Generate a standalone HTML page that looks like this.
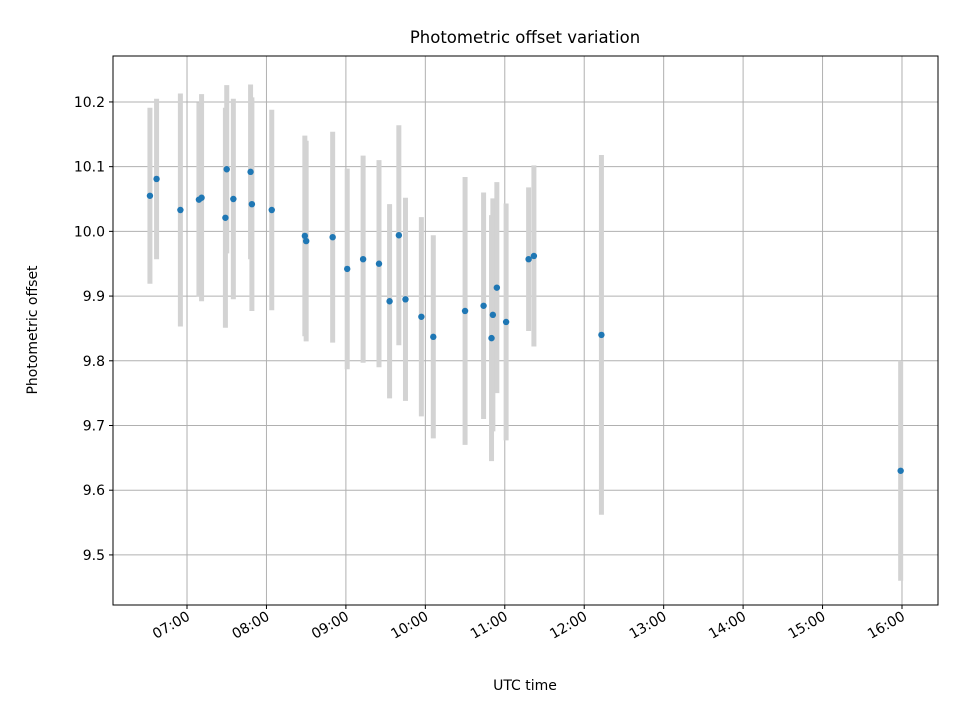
<!DOCTYPE html>
<html><head><meta charset="utf-8"><style>
body{margin:0;background:#fff;font-family:"Liberation Sans","DejaVu Sans",sans-serif}
svg text{font-family:"DejaVu Sans","Liberation Sans",sans-serif}
</style></head><body>
<svg id="chart" width="960" height="720" xmlns="http://www.w3.org/2000/svg">
<rect width="960" height="720" fill="#fff"/>
<text x="525" y="43" font-size="16.5" text-anchor="middle">Photometric offset variation</text>
<text x="525" y="690" font-size="14" text-anchor="middle">UTC time</text>
<text transform="translate(37,330) rotate(-90)" font-size="14" text-anchor="middle">Photometric offset</text>
<g id="grid"></g><g id="bars"></g><g id="pts"></g><g id="ticks"></g>
<rect x="113" y="56" width="825" height="549" fill="none" stroke="#000" stroke-width="1"/>
</svg>
<script>
const times = ["06:32","06:37","06:55","07:09","07:11","07:29","07:30","07:35","07:48","07:49","08:04","08:29","08:30","08:50","09:01","09:13","09:25","09:33","09:40","09:45","09:57","10:06","10:30","10:44","10:50","10:51","10:54","11:01","11:18","11:22","12:13","15:59"];
const offsets = [10.055,10.081,10.033,10.049,10.052,10.021,10.096,10.050,10.092,10.042,10.033,9.993,9.985,9.991,9.942,9.957,9.950,9.892,9.994,9.895,9.868,9.837,9.877,9.885,9.835,9.871,9.913,9.860,9.957,9.962,9.840,9.630];
const errors = [0.136,0.124,0.18,0.15,0.16,0.17,0.13,0.155,0.135,0.165,0.155,0.155,0.155,0.163,0.155,0.16,0.16,0.15,0.17,0.157,0.154,0.157,0.207,0.175,0.19,0.18,0.163,0.183,0.111,0.14,0.278,0.17];
const xTickLabels = ["07:00","08:00","09:00","10:00","11:00","12:00","13:00","14:00","15:00","16:00"];
const yTickLabels = ["9.5","9.6","9.7","9.8","9.9","10.0","10.1","10.2"];

const X0=113,X1=938,Y0=56,Y1=605;
const xMin=6*60+4.1, xMax=16*60+27.2, yMin=9.4226, yMax=10.271;
const toMin=s=>{const [h,m]=s.split(":").map(Number);return h*60+m;};
const xs=m=>X0+(m-xMin)/(xMax-xMin)*(X1-X0);
const ys=v=>Y1-(v-yMin)/(yMax-yMin)*(Y1-Y0);
const NS="http://www.w3.org/2000/svg";
function mk(tag,attrs,parent){const e=document.createElementNS(NS,tag);for(const k in attrs)e.setAttribute(k,attrs[k]);document.getElementById(parent).appendChild(e);return e;}

xTickLabels.forEach(l=>{
  const x=xs(toMin(l));
  const g=mk("line",{x1:x,x2:x,y1:Y0,y2:Y1,stroke:"#b0b0b0","stroke-width":1},"grid");
  
  
  const t=mk("line",{x1:x,x2:x,y1:Y1,y2:Y1+4,stroke:"#000"},"ticks");
  
  
  const tx=mk("text",{x:x+4,y:Y1+14,"font-size":14,"text-anchor":"end",transform:`rotate(-30 ${x+4} ${Y1+14})`},"ticks");
  tx.textContent=l;
  
  
});
yTickLabels.forEach(l=>{
  const y=ys(parseFloat(l));
  const g=mk("line",{x1:X0,x2:X1,y1:y,y2:y,stroke:"#b0b0b0","stroke-width":1},"grid");
  
  
  const t=mk("line",{x1:X0-4,x2:X0,y1:y,y2:y,stroke:"#000"},"ticks");
  
  
  const tx=mk("text",{x:X0-8,y:y+5,"font-size":14,"text-anchor":"end"},"ticks");
  tx.textContent=l;
  
  
});
times.forEach((tm,i)=>{
  const x=xs(toMin(tm));
  const b=mk("line",{x1:x,x2:x,y1:ys(offsets[i]+errors[i]),y2:ys(offsets[i]-errors[i]),stroke:"#d3d3d3","stroke-width":5},"bars");
  
  
  const p=mk("circle",{cx:x,cy:ys(offsets[i]),r:3.2,fill:"#1f77b4"},"pts");
  
  
});
</script>
</body></html>
